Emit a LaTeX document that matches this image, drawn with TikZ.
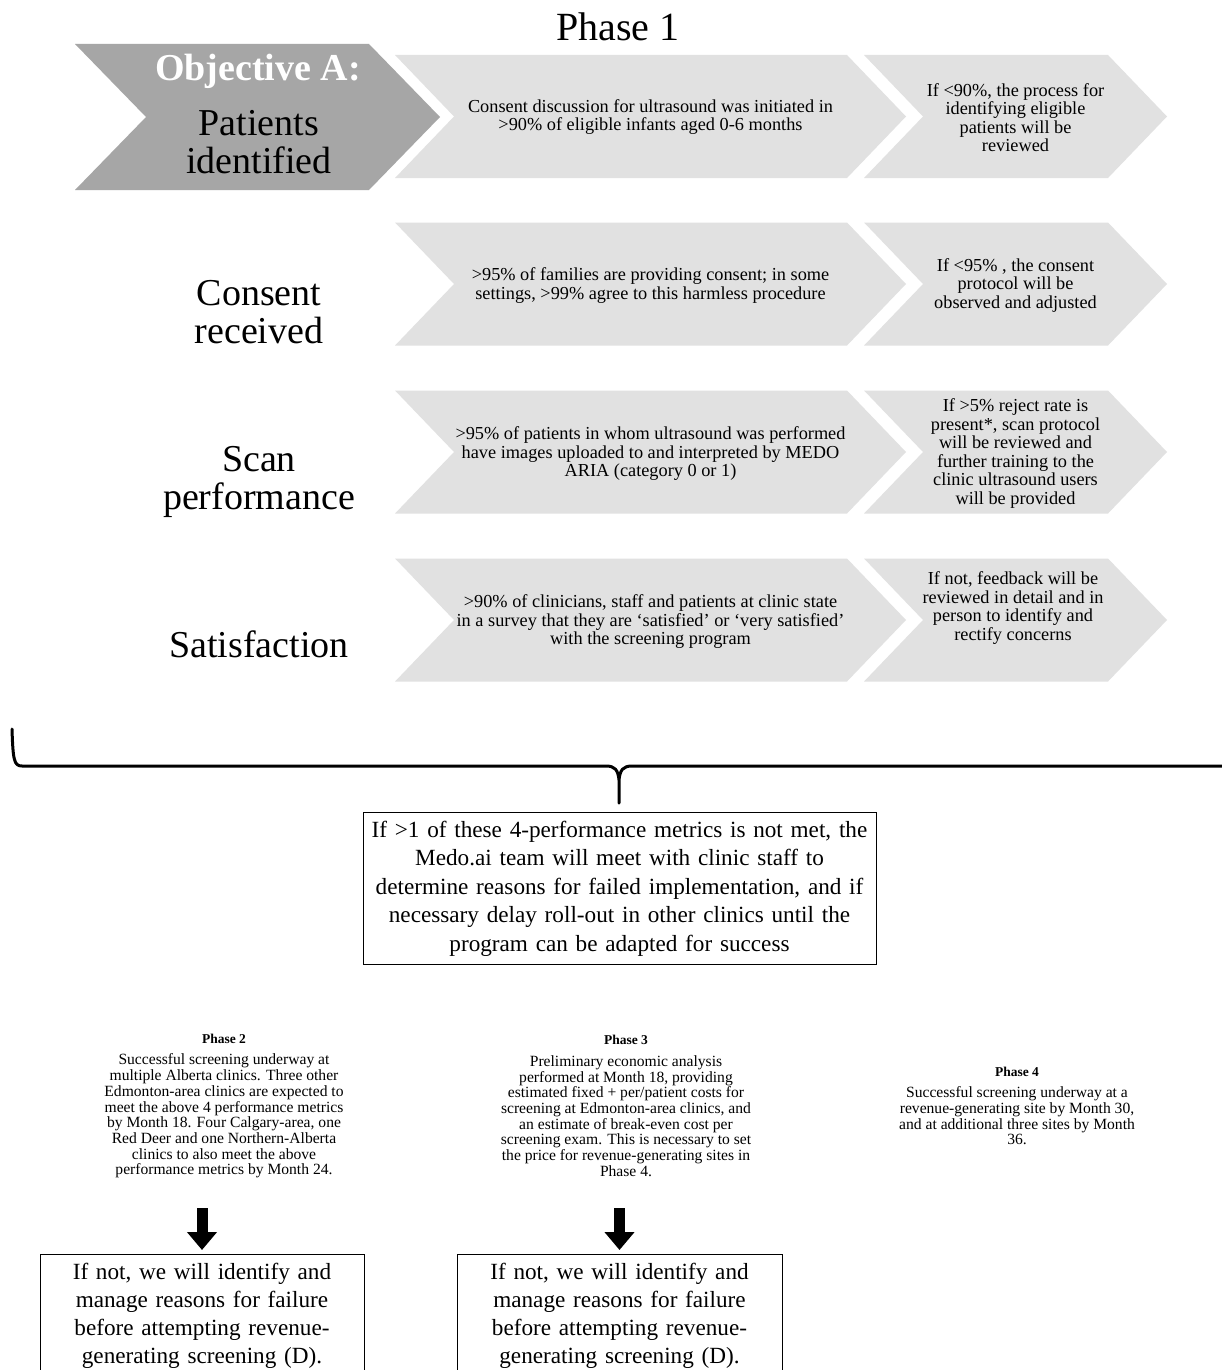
\documentclass[tikz,border=0pt]{standalone}
\usepackage{fontspec}
\setmainfont{Liberation Serif}
\usetikzlibrary{arrows.meta}
\definecolor{darkchev}{HTML}{A6A6A6}
\definecolor{lightchev}{HTML}{E1E1E1}
\newcommand\drawchev[6]{\fill[#6] (#1,{#3-#4}) -- (#2,{#3-#4}) -- ({#2+#5},#3) -- (#2,{#3+#4}) -- (#1,{#3+#4}) -- ({#1+#5},#3) -- cycle;}
\newcommand\phasehd{\bfseries\fontsize{13.5}{15.7}\selectfont}
\begin{document}
\begin{tikzpicture}[x=1pt,y=-1pt,
  chevtext/.style={align=center, font=\fontsize{18.3}{18.5}\selectfont, inner sep=0pt},
  rowlabel/.style={align=center, font=\fontsize{38}{38}\selectfont, inner sep=0pt},
  boxtext/.style={draw, line width=0.8pt, align=center, font=\fontsize{23.2}{28.5}\selectfont},
  lowbox/.style={draw, line width=0.8pt, align=center, font=\fontsize{23.2}{28}\selectfont},
  phasetext/.style={align=center, font=\fontsize{15.6}{15.7}\selectfont, inner sep=0pt},
  blockarrow/.style={line width=11pt, -{Triangle[width=29pt,length=18pt]}, shorten >=4pt},
  bracepath/.style={line width=3pt, line join=round, line cap=round}
]
\useasboundingbox (0,0) rectangle (1222,1370);
\fill[white] (0,0) rectangle (1222,1370);

% title
\node[font=\fontsize{40}{40}\selectfont, inner sep=0pt] (title) at (618,26.5) {Phase 1};

% Objective A chevron
\drawchev{75}{369}{117}{73}{71}{darkchev}
\node[rowlabel, text=white, font=\bfseries\fontsize{38}{38}\selectfont] (obj) at (258,71) {Objective A:};
\node[rowlabel] (lab1) at (259,142.5) {Patients\\identified};

% row chevrons
\foreach \yc in {116.5,284,452,620}{
  \drawchev{395}{847}{\yc}{61.5}{59}{lightchev}
  \drawchev{864}{1108}{\yc}{61.5}{59}{lightchev}
}

\node[rowlabel] (lab2) at (259,312.5) {Consent\\received};
\node[rowlabel] (lab3) at (259,481.5) {Scan\\performance};
\node[rowlabel] (lab4) at (259,644.5) {Satisfaction};

% row 1 texts
\node[chevtext] (r1a) at (650.5,117) {Consent discussion for ultrasound was initiated in\\ >90\% of eligible infants aged 0-6 months};
\node[chevtext] (r1b) at (1015.5,117.5) {If <90\%, the process for\\identifying eligible\\patients will be\\reviewed};
% row 2
\node[chevtext] (r2a) at (650.5,285.5) {>95\% of families are providing consent; in some\\settings, >99\% agree to this harmless procedure};
\node[chevtext] (r2b) at (1015.5,285.5) {If <95\% , the consent\\protocol will be\\observed and adjusted};
% row 3
\node[chevtext] (r3a) at (650.5,454) {>95\% of patients in whom ultrasound was performed\\have images uploaded to and interpreted by MEDO\\ARIA (category 0 or 1)};
\node[chevtext] (r3b) at (1015.5,453.5) {If >5\% reject rate is\\present*, scan protocol\\will be reviewed and\\further training to the\\clinic ultrasound users\\will be provided};
% row 4
\node[chevtext] (r4a) at (650.5,622) {>90\% of clinicians, staff and patients at clinic state\\in a survey that they are ‘satisfied’ or ‘very satisfied’\\with the screening program};
\node[chevtext] (r4b) at (1013,608) {If not, feedback will be\\reviewed in detail and in\\person to identify and\\rectify concerns};

% brace
\draw[bracepath] (12,729) .. controls (13,760) and (14,766) .. (22,766) -- (606,766)
  .. controls (615,766) and (618,770) .. (619,780) -- (619,803)
  (619,780) .. controls (620,770) and (623,766) .. (632,766) -- (1226,766);

% middle box
\node[boxtext, minimum width=513pt, minimum height=152pt, text width=512pt, inner sep=0pt] (mid) at (619.5,888.5)
  {If >1 of these 4-performance metrics is not met, the\\Medo.ai team will meet with clinic staff to\\determine reasons for failed implementation, and if\\necessary delay roll-out in other clinics until the\\program can be adapted for success};

% phases
\node[phasetext] (p2) at (224,1106) {{\phasehd Phase 2}\\[6pt]Successful screening underway at\\multiple Alberta clinics. Three other\\Edmonton-area clinics are expected to\\meet the above 4 performance metrics\\by Month 18. Four Calgary-area, one\\Red Deer and one Northern-Alberta\\clinics to also meet the above\\performance metrics by Month 24.};
\node[phasetext] (p3) at (626,1106) {{\phasehd Phase 3}\\[6pt]Preliminary economic analysis\\performed at Month 18, providing\\estimated fixed + per/patient costs for\\screening at Edmonton-area clinics, and\\an estimate of break-even cost per\\screening exam. This is necessary to set\\the price for revenue-generating sites in\\Phase 4.};
\node[phasetext] (p4) at (1017,1106) {{\phasehd Phase 4}\\[6pt]Successful screening underway at a\\revenue-generating site by Month 30,\\and at additional three sites by Month\\36.};

% bottom boxes
\node[lowbox, anchor=north, minimum width=324pt, text width=310pt, inner xsep=7pt, inner ysep=9pt] (b1) at (202,1254)
  {If not, we will identify and\\manage reasons for failure\\before attempting revenue-\\generating screening (D).\\ \strut};
\node[lowbox, anchor=north, minimum width=325pt, text width=311pt, inner xsep=7pt, inner ysep=9pt] (b2) at (619.5,1254)
  {If not, we will identify and\\manage reasons for failure\\before attempting revenue-\\generating screening (D).\\ \strut};

% arrows
\coordinate (a1s) at (202,1208);
\coordinate (a2s) at (619.5,1208);
\draw[blockarrow] (a1s) -- (b1.north);
\draw[blockarrow] (a2s) -- (b2.north);
\end{tikzpicture}
\end{document}
